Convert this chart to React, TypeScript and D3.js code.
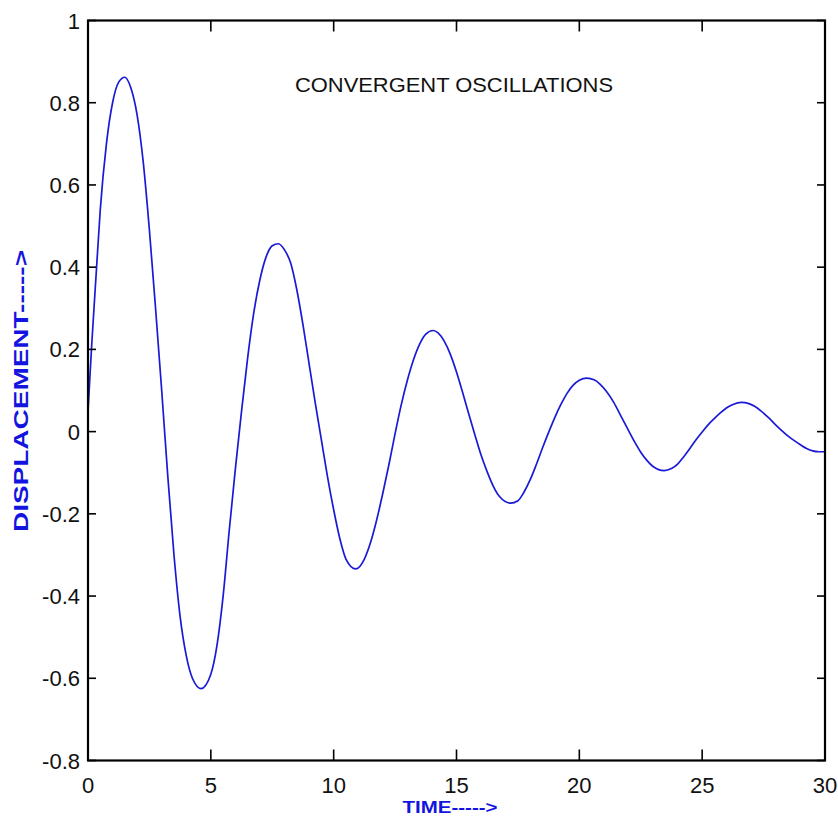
import React from "react";
import * as d3 from "d3";

const TIME = [
  0, 0.15, 0.35, 0.5, 0.75, 1.0, 1.25, 1.5, 1.75, 2.0, 2.25, 2.5, 2.75, 3.0, 3.25, 3.5, 3.75, 4.0, 4.25, 4.6,
  5.0, 5.25, 5.5, 5.75, 6.0, 6.25, 6.5, 6.75, 7.0, 7.25, 7.5, 7.75, 8.0, 8.25, 8.5, 8.75, 9.0, 9.25, 9.5, 9.75,
  10.0, 10.25, 10.5, 10.9, 11.25, 11.5, 11.75, 12.0, 12.25, 12.5, 12.75, 13.0, 13.25, 13.5, 13.75, 14.05, 14.25, 14.5, 14.75, 15.0,
  15.25, 15.5, 15.75, 16.0, 16.25, 16.5, 16.75, 17.2, 17.5, 17.75, 18.0, 18.25, 18.5, 18.75, 19.0, 19.25, 19.5, 19.75, 20.0, 20.3,
  20.6, 20.85, 21.1, 21.4, 21.7, 22.0, 22.25, 22.5, 22.75, 23.0, 23.45, 23.75, 24.0, 24.25, 24.5, 24.75, 25.0, 25.25, 25.5, 25.75,
  26.0, 26.25, 26.6, 26.9, 27.15, 27.4, 27.7, 28.0, 28.25, 28.5, 28.75, 29.0, 29.25, 29.5, 29.75, 30.0,
];
const DISPLACEMENT = [
  0.05, 0.21, 0.4, 0.54, 0.7, 0.8, 0.85, 0.862, 0.835, 0.77, 0.655, 0.49, 0.3, 0.1, -0.11, -0.3, -0.45, -0.545, -0.6, -0.625,
  -0.59, -0.52, -0.4, -0.24, -0.09, 0.05, 0.18, 0.29, 0.37, 0.425, 0.452, 0.457, 0.442, 0.41, 0.345, 0.26, 0.165, 0.07, -0.02, -0.11,
  -0.19, -0.26, -0.31, -0.334, -0.31, -0.27, -0.215, -0.15, -0.08, -0.005, 0.065, 0.125, 0.175, 0.213, 0.237, 0.246, 0.24, 0.22, 0.188, 0.145,
  0.095, 0.043, -0.008, -0.057, -0.098, -0.133, -0.158, -0.174, -0.168, -0.147, -0.117, -0.08, -0.04, -0.002, 0.034, 0.066, 0.093, 0.113, 0.125, 0.13,
  0.126, 0.115, 0.098, 0.071, 0.037, 0.003, -0.025, -0.05, -0.07, -0.085, -0.095, -0.09, -0.079, -0.061, -0.041, -0.02, -0.001, 0.017, 0.032, 0.046,
  0.058, 0.066, 0.071, 0.068, 0.061, 0.05, 0.034, 0.016, 0.002, -0.011, -0.022, -0.032, -0.041, -0.047, -0.049, -0.049,
];
const X_TICKS = [0, 5, 10, 15, 20, 25, 30];
const Y_TICKS = [-0.8, -0.6, -0.4, -0.2, 0, 0.2, 0.4, 0.6, 0.8, 1];
const TITLE = "CONVERGENT OSCILLATIONS";
const X_LABEL = "TIME----->";
const Y_LABEL = "DISPLACEMENT----->";

export default function App() {
  const left = 88, right = 825, top = 20.5, bottom = 760.5;
  const x = d3.scaleLinear().domain([0, 30]).range([left, right]);
  const y = d3.scaleLinear().domain([-0.8, 1]).range([bottom, top]);
  const pts = TIME.map((t, i) => [t, DISPLACEMENT[i]] as [number, number]);
  const line = d3
    .line<[number, number]>()
    .x((d) => x(d[0]))
    .y((d) => y(d[1]))
    .curve(d3.curveMonotoneX);
  const fmt = (v: number) => (Math.abs(v) < 1e-9 ? "0" : String(+v.toFixed(1)));
  const tickFont = "'Liberation Sans', Arial, sans-serif";
  return (
    <svg
      width={838}
      height={838}
      style={{ position: "absolute", left: 0, top: 0, background: "#fff" }}
    >
      <rect x={0} y={0} width={838} height={838} fill="#fff" />
      <path d={line(pts) || ""} fill="none" stroke="#1a1ad6" strokeWidth={1.7} />
      <rect x={left} y={top} width={right - left} height={bottom - top} fill="none" stroke="#000" strokeWidth={2.2} />
      {X_TICKS.map((t) => (
        <g key={"xt" + t}>
          <line x1={x(t)} x2={x(t)} y1={bottom} y2={bottom - 11} stroke="#000" strokeWidth={1.6} />
          <line x1={x(t)} x2={x(t)} y1={top} y2={top + 11} stroke="#000" strokeWidth={1.6} />
          <text
            x={x(t)}
            y={793}
            textAnchor="middle"
            fontFamily={tickFont}
            fontSize={22}
            fill="#111"
          >
            {fmt(t)}
          </text>
        </g>
      ))}
      {Y_TICKS.map((v) => (
        <g key={"yt" + v}>
          <line x1={left} x2={left + 8} y1={y(v)} y2={y(v)} stroke="#000" strokeWidth={1.6} />
          <line x1={right} x2={right - 8} y1={y(v)} y2={y(v)} stroke="#000" strokeWidth={1.6} />
          <text
            x={80}
            y={y(v) + 8}
            textAnchor="end"
            fontFamily={tickFont}
            fontSize={22}
            fill="#111"
          >
            {fmt(v)}
          </text>
        </g>
      ))}
      <text
        x={454}
        y={92}
        textAnchor="middle"
        fontFamily={tickFont}
        fontSize={19.5}
        fill="#111"
        textLength={318}
        lengthAdjust="spacingAndGlyphs"
      >
        {TITLE}
      </text>
      <text
        x={450}
        y={813}
        textAnchor="middle"
        fontFamily={tickFont}
        fontWeight="bold"
        fontSize={16.5}
        fill="#1414e0"
        textLength={95}
        lengthAdjust="spacingAndGlyphs"
      >
        {X_LABEL}
      </text>
      <text
        transform="translate(28,391) rotate(-90)"
        textAnchor="middle"
        fontFamily={tickFont}
        fontWeight="bold"
        fontSize={20}
        fill="#1414e0"
        textLength={282}
        lengthAdjust="spacingAndGlyphs"
      >
        {Y_LABEL}
      </text>
    </svg>
  );
}
